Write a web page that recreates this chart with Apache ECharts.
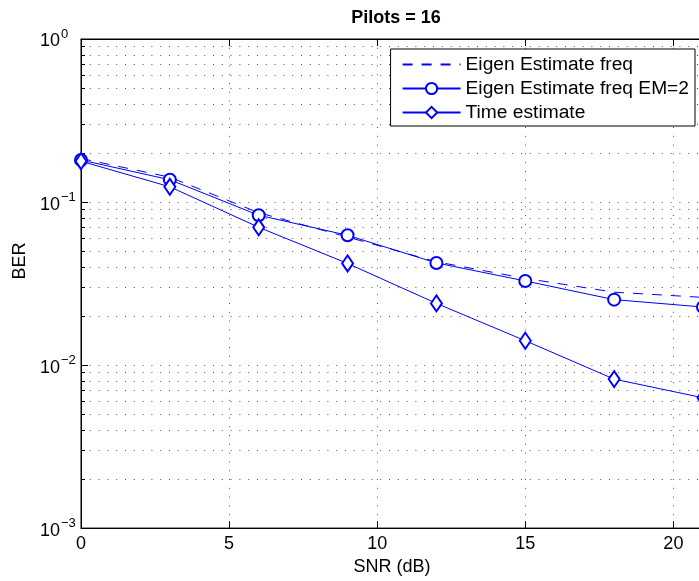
<!DOCTYPE html>
<html>
<head>
<meta charset="utf-8">
<script src="https://cdn.jsdelivr.net/npm/echarts@6/dist/echarts.min.js"></script>
<style>html,body{margin:0;padding:0;background:#fff;overflow:hidden;}#c{width:706px;height:581px;}</style>
</head>
<body>
<div id="c"></div>
<script>
const snr = [0, 3, 6, 9, 12, 15, 18, 21];
const eigenFreq = [0.185, 0.142, 0.086, 0.061, 0.043, 0.034, 0.028, 0.026];
const eigenEM2 = [0.181, 0.137, 0.083, 0.0625, 0.0423, 0.0328, 0.0252, 0.0227];
const timeEst = [0.178, 0.124, 0.070, 0.0420, 0.0239, 0.0141, 0.0082, 0.0063];
const seriesNames = ['Eigen Estimate freq', 'Eigen Estimate freq EM=2', 'Time estimate'];
const xTicks = [0, 5, 10, 15, 20];
const titleText = 'Pilots = 16';
const xName = 'SNR (dB)';
const yName = 'BER';

const FONT = 'Liberation Sans, Arial, Helvetica, sans-serif';
const BLUE = '#0000ff';
const NONE = 'rgba(0,0,0,0)';
const pairs = v => snr.map((x, i) => [x, v[i]]);
const dots = { color: '#555', width: 1, type: [1, 7.8] };

const chart = echarts.init(document.getElementById('c'), null, { renderer: 'canvas' });
chart.setOption({
  animation: false,
  backgroundColor: '#fff',
  textStyle: { fontFamily: FONT },
  title: {
    text: titleText, left: 396, top: 9, textAlign: 'center', padding: 0,
    textStyle: { fontFamily: FONT, fontWeight: 'bold', fontSize: 18, color: '#000' }
  },
  grid: { left: 81, top: 39, right: 1, bottom: 50, show: true, borderColor: '#000', borderWidth: 1, containLabel: false },
  legend: {
    orient: 'vertical', right: 11, top: 49,
    padding: [6, 6, 4, 11], itemGap: 5, itemWidth: 58, itemHeight: 14,
    backgroundColor: '#fff', borderColor: '#000', borderWidth: 1,
    textStyle: { fontFamily: FONT, fontSize: 19.2, color: '#000' },
    data: seriesNames
  },
  xAxis: [{
    type: 'value', min: 0, max: 21, interval: 5,
    axisLine: { show: true, onZero: false, lineStyle: { color: '#000', width: 1 } },
    axisTick: { show: true, inside: true, length: 7, lineStyle: { color: '#000' } },
    axisLabel: {
      margin: 7, color: '#000', fontSize: 18, fontFamily: FONT,
      formatter: v => xTicks.includes(v) ? String(v) : ''
    },
    splitLine: { show: true, lineStyle: dots },
    name: xName, nameLocation: 'middle', nameGap: 23,
    nameTextStyle: { fontFamily: FONT, fontSize: 18, color: '#000' }
  }, {
    type: 'value', min: 0, max: 21, interval: 5, position: 'top',
    axisLine: { show: true, onZero: false, lineStyle: { color: '#000', width: 1 } },
    axisTick: { show: true, inside: true, length: 7, lineStyle: { color: '#000' } },
    axisLabel: { show: false }, splitLine: { show: false }
  }],
  yAxis: {
    type: 'log', logBase: 10, min: 0.001, max: 1,
    axisLine: { show: true, onZero: false, lineStyle: { color: '#000', width: 1 } },
    axisTick: { show: true, inside: true, length: 7, lineStyle: { color: '#000' } },
    minorTick: { show: true, splitNumber: 9, length: 4, lineStyle: { color: '#000' } },
    splitLine: { show: true, lineStyle: dots },
    minorSplitLine: { show: true, lineStyle: dots },
    axisLabel: {
      align: 'left', margin: 41, color: '#000',
      formatter: v => {
        const e = Math.round(Math.log10(v));
        return '{b|10}{s|' + String(e).replace('-', '\u2212') + '}';
      },
      rich: {
        b: { fontFamily: FONT, fontSize: 18, color: '#000', verticalAlign: 'bottom' },
        s: { fontFamily: FONT, fontSize: 13, color: '#000', padding: [0, 0, 10, 1], verticalAlign: 'bottom' }
      }
    }
  },
  graphic: [{
    type: 'text', x: 20, y: 261, rotation: Math.PI / 2,
    style: { text: yName, fontFamily: FONT, fontSize: 18, fill: '#000', textAlign: 'center', textVerticalAlign: 'middle' }
  }],
  series: [{
    name: seriesNames[0], type: 'line', data: pairs(eigenFreq),
    symbol: 'circle', symbolSize: 1, showSymbol: false,
    lineStyle: { color: BLUE, width: 1, type: [10, 9] },
    itemStyle: { color: NONE, borderColor: NONE, borderWidth: 0 }
  }, {
    name: seriesNames[1], type: 'line', data: pairs(eigenEM2),
    symbol: 'emptyCircle', symbolSize: 12, showAllSymbol: true,
    lineStyle: { color: BLUE, width: 1 }, itemStyle: { color: BLUE, borderColor: BLUE, borderWidth: 1 }
  }, {
    name: seriesNames[2], type: 'line', data: pairs(timeEst),
    symbol: 'emptyDiamond', symbolSize: [11, 16], showAllSymbol: true,
    lineStyle: { color: BLUE, width: 1 }, itemStyle: { color: BLUE, borderColor: BLUE, borderWidth: 1 }
  }]
});
</script>
</body>
</html>
